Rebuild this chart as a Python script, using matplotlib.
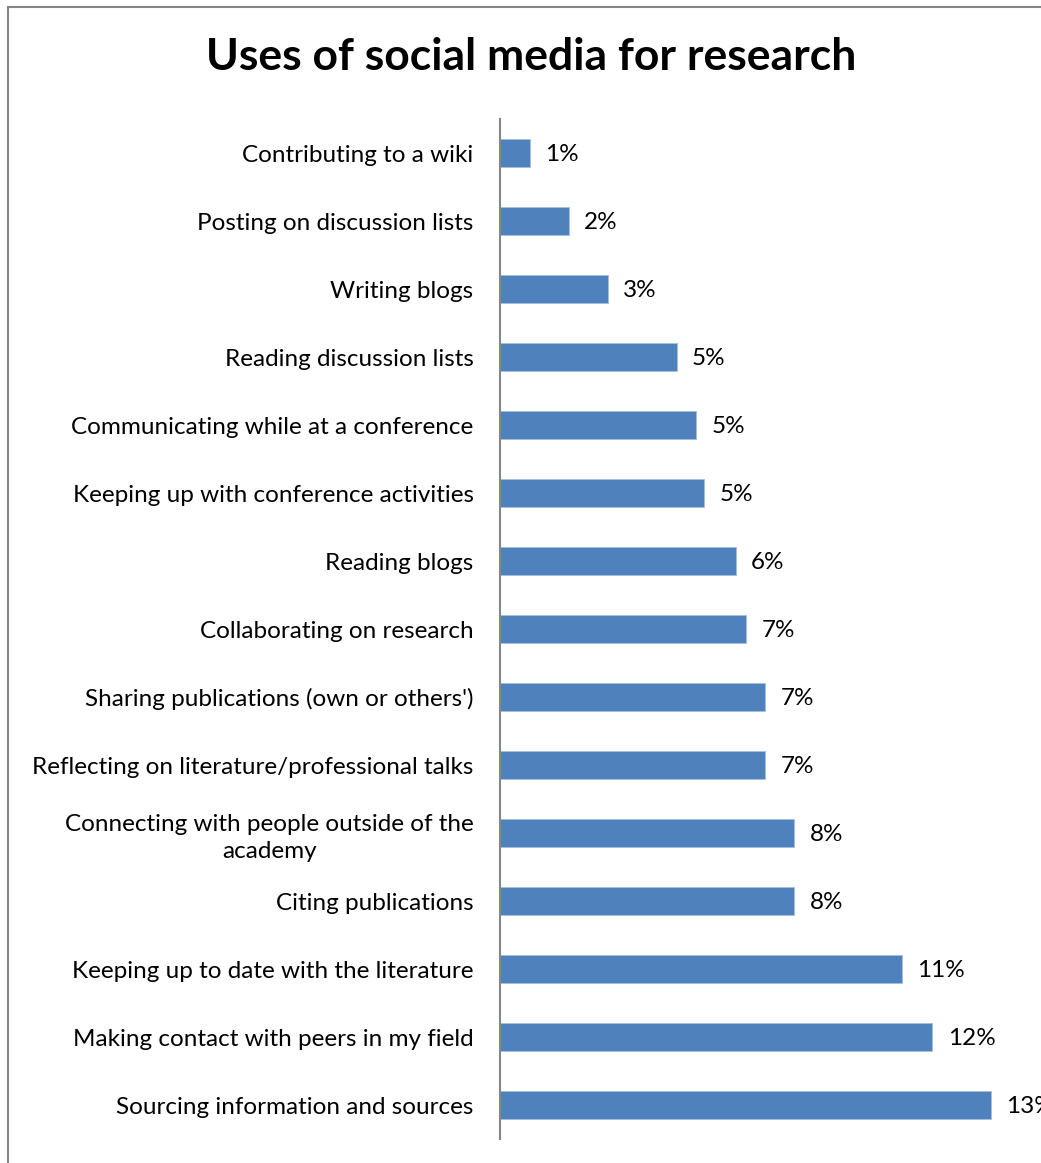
import numpy as np
import matplotlib.pyplot as plt
from matplotlib.patches import Rectangle

categories = [
    "Contributing to a wiki",
    "Posting on discussion lists",
    "Writing blogs",
    "Reading discussion lists",
    "Communicating while at a conference",
    "Keeping up with conference activities",
    "Reading blogs",
    "Collaborating on research",
    "Sharing publications (own or others')",
    "Reflecting on literature/professional talks",
    "Connecting with people outside of the\nacademy",
    "Citing publications",
    "Keeping up to date with the literature",
    "Making contact with peers in my field",
    "Sourcing information and sources",
]
# share of respondents, percent
values = [0.8, 1.83, 2.88, 4.71, 5.23, 5.45, 6.29, 6.56, 7.07, 7.07,
          7.85, 7.85, 10.72, 11.53, 13.09]

plt.rcParams['font.family'] = ['Lato', 'DejaVu Sans']

W, H = 1041, 1163
fig = plt.figure(figsize=(W / 100, H / 100), dpi=100)

# chart border (runs off the right and bottom edges)
fig.patches.append(Rectangle((8 / W, -0.1), 1.2, (H - 7) / H + 0.1,
                             transform=fig.transFigure, fill=False,
                             edgecolor='#868686', linewidth=1.5))

ax = fig.add_axes([500 / W, 24 / H, 525 / W, 1020 / H])
y = np.arange(len(categories))
bars = ax.barh(y, values, height=0.4, color='#4F81BD',
               edgecolor='#A7C0DE', linewidth=0.6)
ax.set_xlim(0, 14)
ax.set_ylim(len(categories) - 0.5, -0.5)

for yi, v in zip(y, values):
    ax.annotate(f"{v:.0f}%", (v, yi), xytext=(11, -1), textcoords='offset points',
                ha='left', va='center', fontsize=17.5, color='black',
                annotation_clip=False)

ax.set_yticks(y)
ax.set_yticklabels(categories, fontsize=17.5, multialignment='center',
                   linespacing=1.35)
ax.tick_params(axis='y', length=0, pad=19)
ax.set_xticks([])
for s in ['top', 'right', 'bottom']:
    ax.spines[s].set_visible(False)
ax.spines['left'].set_color('#868686')
ax.spines['left'].set_linewidth(1.5)

fig.text(531 / W, 1 - 57 / H, "Uses of social media for research",
         ha='center', va='center', fontsize=32, fontweight='bold')

fig.savefig('out.png', dpi=100)
